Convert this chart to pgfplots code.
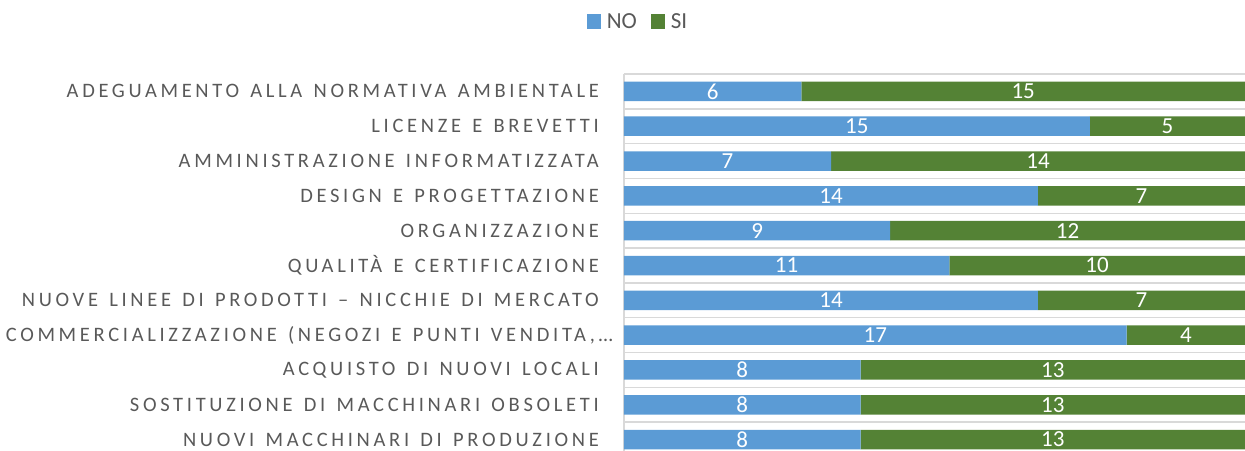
\documentclass[border=0pt]{standalone}
\usepackage{fontspec}
\setmainfont{Carlito}
\newfontfamily\lblfont[LetterSpace=18,WordSpace=1.35]{Carlito}
\usepackage{pgfplots}
\usepackage{pgfplotstable}
\pgfplotsset{compat=1.18}
\definecolor{cno}{HTML}{5B9BD5}
\definecolor{csi}{HTML}{548235}
\definecolor{ctxt}{HTML}{595959}
\definecolor{cgrid}{HTML}{D9D9D9}

\pgfplotstableread[col sep=semicolon]{
cat;no;si
ADEGUAMENTO ALLA NORMATIVA AMBIENTALE;6;15
LICENZE E BREVETTI;15;5
AMMINISTRAZIONE INFORMATIZZATA;7;14
DESIGN E PROGETTAZIONE;14;7
ORGANIZZAZIONE;9;12
QUALITÀ E CERTIFICAZIONE;11;10
NUOVE LINEE DI PRODOTTI – NICCHIE DI MERCATO;14;7
COMMERCIALIZZAZIONE (NEGOZI E PUNTI VENDITA,…\hspace*{-14pt};17;4
ACQUISTO DI NUOVI LOCALI;8;13
SOSTITUZIONE DI MACCHINARI OBSOLETI;8;13
NUOVI MACCHINARI DI PRODUZIONE;8;13
}\data
\pgfplotstablecreatecol[create col/expr={100*\thisrow{no}/(\thisrow{no}+\thisrow{si})}]{pno}\data
\pgfplotstablecreatecol[create col/expr={100*\thisrow{si}/(\thisrow{no}+\thisrow{si})}]{psi}\data
\pgfplotstablecreatecol[create col/expr={50*\thisrow{no}/(\thisrow{no}+\thisrow{si})}]{mno}\data
\pgfplotstablecreatecol[create col/expr={50*(2*\thisrow{no}+\thisrow{si})/(\thisrow{no}+\thisrow{si})}]{msi}\data

\pgfplotsset{common/.style={scale only axis, width=621pt, height=383pt,
  xmin=0, xmax=100, ymin=-0.5, ymax=10.5, y dir=reverse,
  at={(624pt,-7pt)}, anchor=south west,
  /pgf/number format/assume math mode=true}}

\begin{document}
\begin{tikzpicture}
\useasboundingbox (0,0) rectangle (1245pt,450pt);
\clip (0,0) rectangle (1245pt,450pt);
\begin{axis}[common, xbar stacked, bar width=19.5pt,
  axis x line=none, axis y line*=left,
  y axis line style={draw=cgrid, line width=1.5pt},
  ytick={0,...,10}, yticklabels from table={\data}{cat},
  major tick length=0pt, minor tick length=0pt,
  minor ytick={-0.5,0.5,...,10.5}, yminorgrids=true, ymajorgrids=false,
  minor grid style={draw=cgrid, line width=1.5pt},
  yticklabel style={font=\lblfont\fontsize{20.5}{20.5}\selectfont, text=ctxt, anchor=east, inner sep=0pt, xshift=-25pt},
  legend style={at={(axis description cs:0.0225,1.137)}, anchor=center, draw=none,
    font=\fontsize{23}{23}\selectfont, text=ctxt, legend columns=2,
    /tikz/every odd column/.append style={column sep=4pt},
    /tikz/every even column/.append style={column sep=12pt}},
  legend image code/.code={\fill[#1] (0pt,-7.5pt) rectangle (14pt,7.5pt);},
]
\addplot[fill=cno, draw=none] table[x=pno, y expr=\coordindex]{\data};
\addlegendentry{NO}
\addplot[fill=csi, draw=none] table[x=psi, y expr=\coordindex]{\data};
\addlegendentry{SI}
\end{axis}
\begin{axis}[common, hide axis]
\addplot[draw=none, mark=none, nodes near coords, point meta=explicit,
  every node near coord/.append style={anchor=center, inner sep=0pt, text=white, font=\fontsize{23}{23}\selectfont}]
  table[x=mno, y expr=\coordindex, meta=no]{\data};
\addplot[draw=none, mark=none, nodes near coords, point meta=explicit,
  every node near coord/.append style={anchor=center, inner sep=0pt, text=white, font=\fontsize{23}{23}\selectfont}]
  table[x=msi, y expr=\coordindex, meta=si]{\data};
\end{axis}
\end{tikzpicture}
\end{document}
